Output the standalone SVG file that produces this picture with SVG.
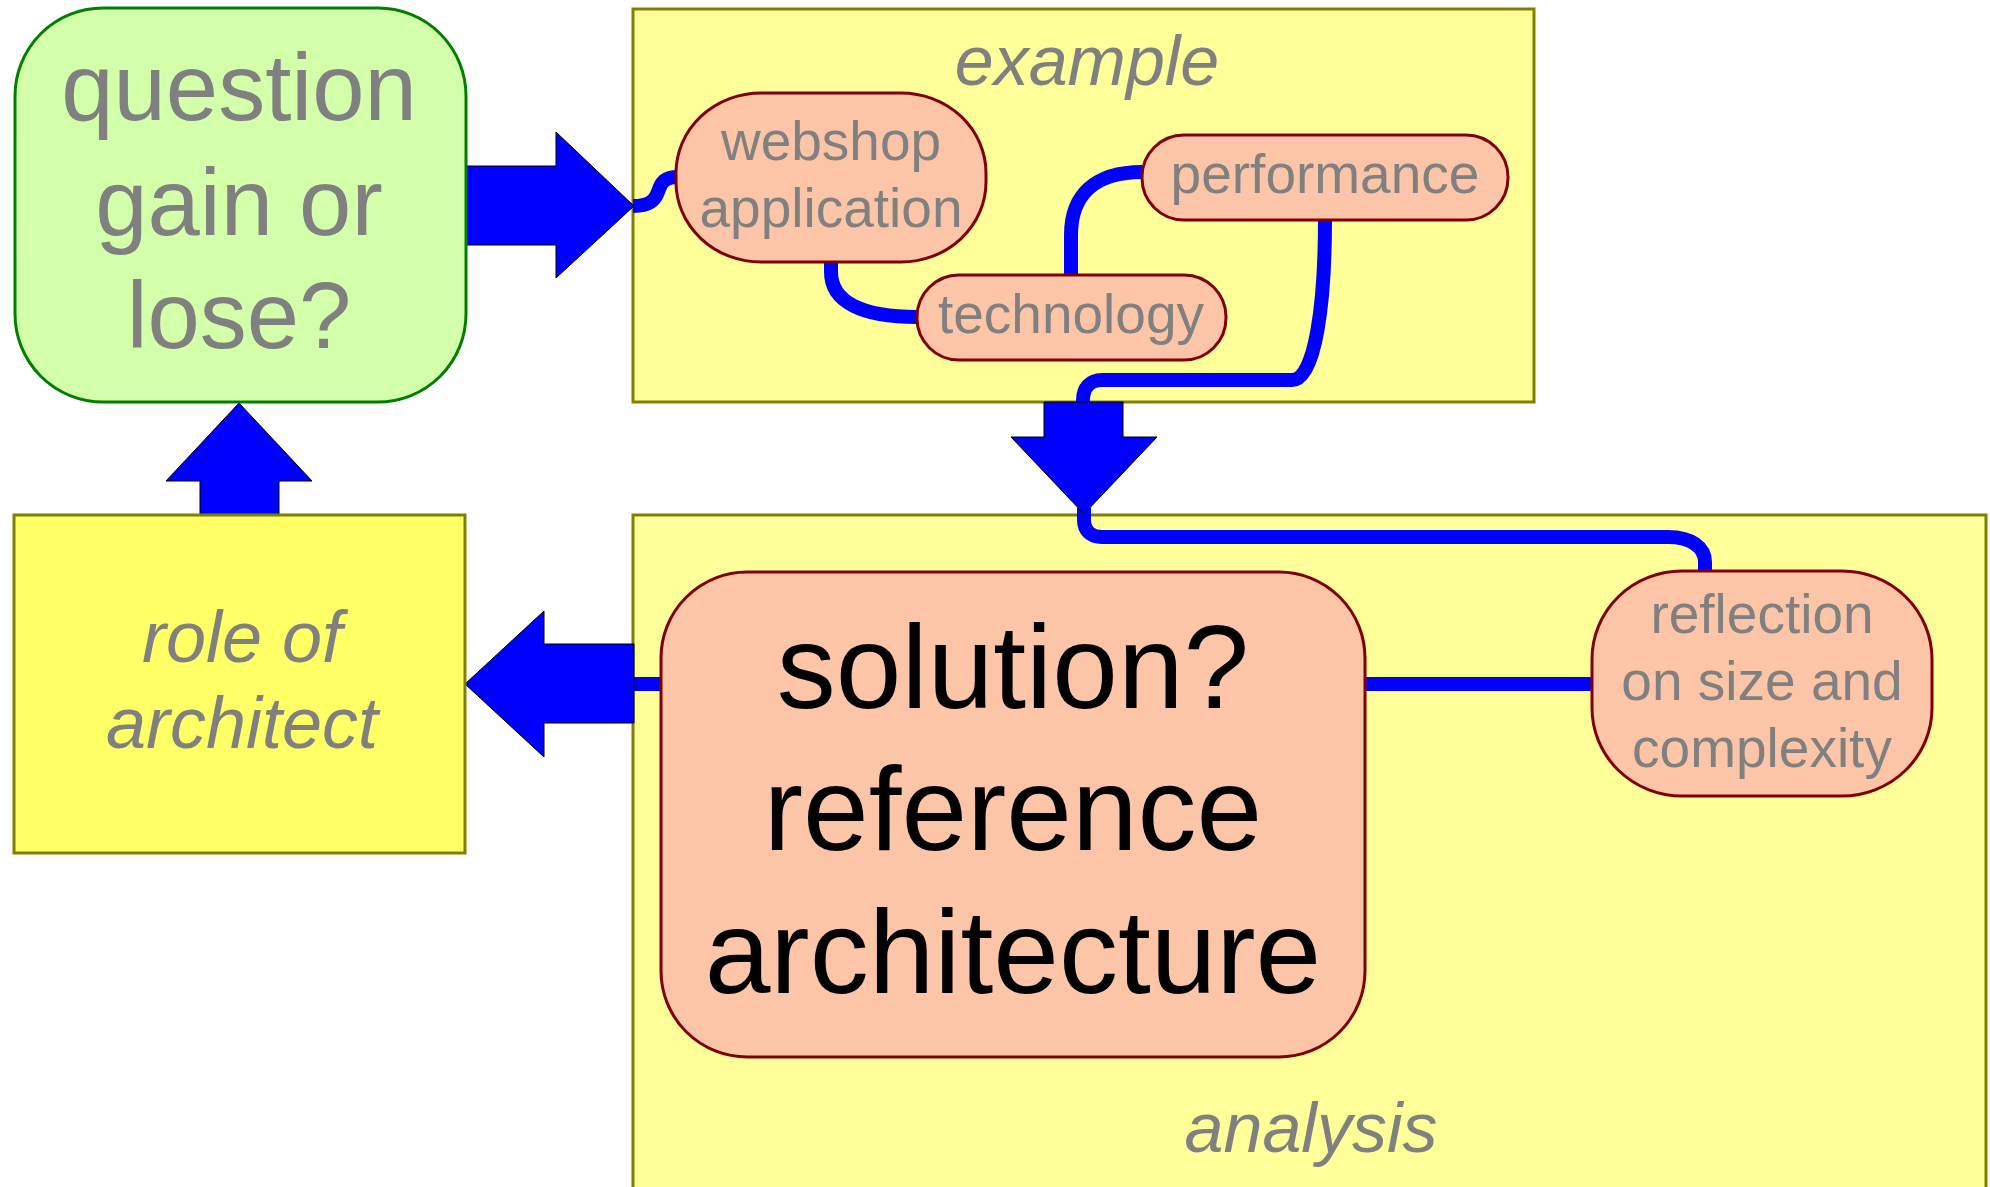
<svg xmlns="http://www.w3.org/2000/svg" width="1990" height="1187" viewBox="0 0 1990 1187">
<style>
text{font-family:"Liberation Sans",Arial,sans-serif;text-anchor:middle}
.g{fill:#808080}
.i{font-style:italic}
.node{fill:#fdc5a7;stroke:#800000;stroke-width:3}
.frame{fill:#ffff99;stroke:#808000;stroke-width:3}
.arrow{fill:#0000ff;stroke:#000;stroke-width:1}
.conn{fill:none;stroke:#0000ff;stroke-width:14}
</style>
<rect width="1990" height="1187" fill="#fff"/>
<g id="example-frame">
<rect class="frame" x="633" y="9" width="901" height="393"/>
<text class="g i" x="1087" y="85" font-size="70">example</text>
</g>
<g id="analysis-frame">
<rect class="frame" x="633" y="515" width="1353" height="700"/>
<text class="g i" x="1311" y="1152" font-size="70">analysis</text>
</g>
<g id="connectors">
<path class="conn" d="M633,206 C650,206 655,200 658,192 C661,182 665,177 678,177"/>
<path class="conn" d="M831,262 L831,272 C831,302 862,317 917,317"/>
<path class="conn" d="M1071,275 L1071,235 C1071,195 1095,172 1142,172"/>
<path class="conn" d="M1325,220 C1325,300 1316,380 1292,380 L1102,380 C1090,380 1083,388 1083,400 L1083,410"/>
<path class="conn" d="M1084,508 L1084,520 C1084,531 1091,537 1102,537 L1668,537 C1692,537 1705,548 1705,562 L1705,572"/>
<path class="conn" d="M633,684 L663,684"/>
<path class="conn" d="M1363,684 L1594,684"/>
</g>
<g id="arrow-right">
<polygon class="arrow" points="464,166 556,166 556,132 634,206 556,278 556,245 464,245"/>
</g>
<g id="arrow-down">
<polygon class="arrow" points="1044,402 1123,402 1123,437 1157,437 1084,514 1011,437 1044,437"/>
</g>
<g id="arrow-left">
<polygon class="arrow" points="634,644 544,644 544,611 465,684 544,757 544,723 634,723"/>
</g>
<g id="arrow-up">
<polygon class="arrow" points="200,515 200,481 166,481 239,403 312,481 279,481 279,515"/>
</g>
<g id="question">
<rect x="15" y="8" width="451" height="394" rx="88" ry="88" fill="#d4ffaa" stroke="#008000" stroke-width="3"/>
<text class="g" x="239" y="120" font-size="94">question</text>
<text class="g" x="239" y="235" font-size="94">gain or</text>
<text class="g" x="239" y="348" font-size="94">lose?</text>
</g>
<g id="role">
<rect x="14" y="515" width="451" height="338" fill="#ffff66" stroke="#808000" stroke-width="3"/>
<text class="g i" x="242" y="662" font-size="72">role of</text>
<text class="g i" x="242" y="748" font-size="72">architect</text>
</g>
<g id="webshop">
<rect class="node" x="676" y="93" width="310" height="169" rx="85" ry="80"/>
<text class="g" x="831" y="160" font-size="55">webshop</text>
<text class="g" x="831" y="227" font-size="55">application</text>
</g>
<g id="performance">
<rect class="node" x="1142" y="135" width="366" height="85" rx="42" ry="42"/>
<text class="g" x="1325" y="193" font-size="55">performance</text>
</g>
<g id="technology">
<rect class="node" x="917" y="275" width="309" height="85" rx="42" ry="42"/>
<text class="g" x="1071" y="333" font-size="55">technology</text>
</g>
<g id="solution">
<rect class="node" x="661" y="572" width="704" height="485" rx="86" ry="86"/>
<text x="1013" y="708" font-size="118" fill="#000">solution?</text>
<text x="1013" y="850" font-size="118" fill="#000">reference</text>
<text x="1013" y="993" font-size="118" fill="#000">architecture</text>
</g>
<g id="reflection">
<rect class="node" x="1592" y="571" width="340" height="225" rx="90" ry="88"/>
<text class="g" x="1762" y="633" font-size="55">reflection</text>
<text class="g" x="1762" y="700" font-size="55">on size and</text>
<text class="g" x="1762" y="767" font-size="55">complexity</text>
</g>
</svg>
